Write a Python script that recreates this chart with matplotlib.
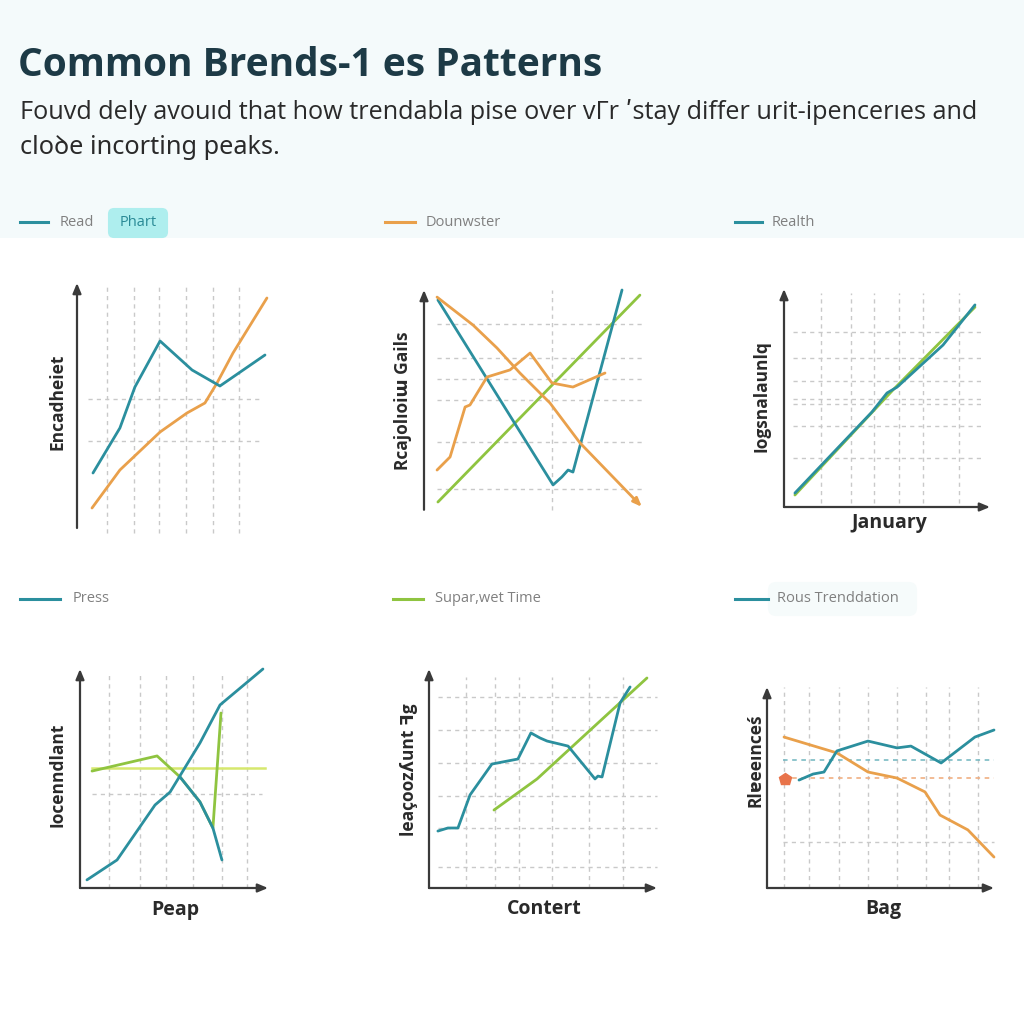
import matplotlib
matplotlib.use("Agg")
import matplotlib.pyplot as plt
from matplotlib.patches import Rectangle, FancyBboxPatch
from matplotlib.lines import Line2D

plt.rcParams['font.family'] = ['Open Sans', 'DejaVu Sans']

TEAL = "#2b8f9e"
ORANGE = "#e9a04b"
GREEN = "#8fc440"
YEL = "#d6e86e"
GRID = "#c9c9c9"
AX = "#3a3a3a"

# ---------------- data ----------------
title = "Common Brends-1 es Patterns"
subtitle_1 = "Fouvd dely avouıd that how trendabla pise over vΓr ʹstay differ urit-ipencerıes and"
subtitle_2 = "cloꝺe incorting peaks."

# panel 1
p1_ylabel = "Encadheiet"
p1_teal_x = [8.2, 22, 29.7, 42.6, 59, 73.3, 96.4]
p1_teal_y = [24, 42, 58.4, 76.8, 65.2, 58.8, 71.2]
p1_orange_x = [7.7, 22, 42.6, 56.4, 65.6, 71.8, 80, 97.4]
p1_orange_y = [10, 25.2, 40.4, 48, 52, 60, 72, 94]
p1_vgrid = [15.4, 29.2, 42, 55.9, 69.7, 83]
p1_hgrid = [53.6, 36.8]

# panel 2
p2_ylabel = "Rcajolıoiɯ Gails"
p2_teal_x = [6.3, 58.4, 62.4, 65.2, 67.4, 89.6]
p2_teal_y = [95.5, 12.2, 15.8, 18.9, 18, 100]
p2_orange1_x = [5.9, 22.2, 33, 43.4, 57, 70.6, 98.6]
p2_orange1_y = [96.8, 84.2, 73.9, 62.6, 49.1, 31.1, 2.3]
p2_orange2_x = [5.9, 11.8, 18.6, 20.8, 28.5, 38.9, 48, 57.9, 67.4, 81.9]
p2_orange2_y = [18.9, 24.8, 47.3, 48.2, 60.8, 64, 71.6, 58.1, 56.3, 62.6]
p2_green_x = [6.3, 97.7]
p2_green_y = [4.5, 97.7]
p2_vgrid = [57.9]
p2_hgrid = [84.7, 69.4, 59.9, 50.5, 31.5, 10.4]

# panel 3
p3_ylabel = "Iogsnalaunlq"
p3_xlabel = "January"
p3_teal_x = [5.3, 42.7, 50, 54.9, 77.2, 92.7]
p3_teal_y = [6.4, 43.6, 52.3, 55, 74.3, 92.7]
p3_green_x = [5.3, 52.9, 92.7]
p3_green_y = [5.5, 53.7, 91.7]
p3_vgrid = [18, 32.5, 43.7, 55.8, 67.5, 85]
p3_hgrid = [80.3, 68.3, 57.8, 49.5, 47.2, 37.2, 22.5]

# panel 4
p4_ylabel = "Iocenndlant"
p4_xlabel = "Peap"
p4_teal_x = [3.7, 19.7, 39.9, 47.9, 63.8, 74.5, 97.3]
p4_teal_y = [3.7, 12.8, 37.9, 43.8, 66.2, 83.6, 100]
p4_green_x = [6.4, 41, 53.2, 63.8, 70.7, 75]
p4_green_y = [53.4, 60.3, 50.7, 39.3, 27.4, 79.9]
p4_teal2_x = [53.2, 63.8, 70.7, 75.5]
p4_teal2_y = [50.7, 39.3, 27.4, 12.8]
p4_vgrid = [15.4, 31.9, 45.7, 60.1, 75.5, 88.8]
p4_ref_level = 54.8
p4_hgrid = [42.9]

# panel 5
p5_ylabel = "leaçoozʎunt ꟻg"
p5_xlabel = "Contert"
p5_teal_x = [3.9, 8.3, 12.7, 18, 27.6, 39, 44.7, 48.7, 51.8, 61, 72.8, 74.1, 75.9, 83.8, 88.2]
p5_teal_y = [26, 27.4, 27.4, 42.5, 56.6, 58.9, 70.8, 68.5, 67.1, 64.8, 49.8, 51.1, 50.7, 84.5, 91.8]
p5_green_x = [28.5, 47.4, 95.6]
p5_green_y = [35.6, 49.8, 95.9]
p5_vgrid = [16.2, 28.9, 39.5, 53.9, 70.2, 85.1]
p5_hgrid = [87.2, 72.1, 57.1, 42, 27.4, 9.6]

# panel 6
p6_ylabel = "Rlɐeeınceś"
p6_xlabel = "Bag"
p6_teal_x = [14.1, 20.3, 25.1, 30.8, 44.5, 57.3, 63.4, 76.7, 91.6, 100]
p6_teal_y = [53.7, 56.7, 57.7, 68.2, 73.1, 69.7, 70.6, 62.2, 75.1, 78.6]
p6_orange_x = [7.5, 30.8, 44.5, 57.3, 69.6, 76.2, 88.5, 100]
p6_orange_y = [75.1, 67.2, 57.7, 54.7, 47.8, 36.3, 28.9, 15.4]
p6_vgrid = [7.5, 18.5, 31.7, 44.5, 57.3, 70, 80.2, 93]
p6_teal_ref = 63.7
p6_orange_ref = 54.7
p6_hgrid = [22.9]
p6_marker = (7.9, 54.2)

# legend labels
leg_top = [("Read", TEAL), ("Dounwster", ORANGE), ("Realth", TEAL)]
leg_bottom = [("Press", TEAL), ("Supar,wet Time", GREEN), ("Rous Trenddation", TEAL)]

# ---------------- figure ----------------
W = H = 1024
fig = plt.figure(figsize=(10.24, 10.24), dpi=100)
fig.patch.set_facecolor("white")

def fx(px):
    return px / W

def fy(py):
    return 1 - py / H

fig.patches.append(Rectangle((0, fy(238)), 1, 238 / H, transform=fig.transFigure,
                             facecolor="#f4fafb", edgecolor="none", zorder=0))

fig.text(fx(18), fy(66), title, fontsize=28, fontweight="bold", color="#1d3a46",
         va="center", ha="left", family=["Open Sans", "DejaVu Sans"])
fig.text(fx(20), fy(112), subtitle_1, fontsize=18.2, color="#2a2a2a", va="center", ha="left",
         family=["Open Sans", "DejaVu Sans"])
fig.text(fx(20), fy(148), subtitle_2, fontsize=18.2, color="#2a2a2a", va="center", ha="left",
         family=["Noto Sans", "DejaVu Sans"])

def legend_item(x0, x1, tx, py, label, color):
    fig.add_artist(Line2D([fx(x0), fx(x1)], [fy(py), fy(py)], color=color, lw=2.2,
                          transform=fig.transFigure))
    fig.text(fx(tx), fy(py), label, fontsize=10.5, color="#808080", va="center", ha="left")

legend_item(20, 48, 60, 222, leg_top[0][0], leg_top[0][1])
fig.patches.append(FancyBboxPatch((fx(110), fy(236)), fx(56), 26 / H,
                                  boxstyle="round,pad=0.002,rounding_size=0.006",
                                  transform=fig.transFigure, facecolor="#aeeeee",
                                  edgecolor="none", zorder=1))
fig.text(fx(138), fy(222), "Phart", fontsize=10.5, color="#2a8a96", va="center", ha="center", zorder=2)
legend_item(385, 415, 426, 222, leg_top[1][0], leg_top[1][1])
legend_item(735, 762, 772, 222, leg_top[2][0], leg_top[2][1])

legend_item(20, 60, 73, 599, leg_bottom[0][0], leg_bottom[0][1])
legend_item(393, 423, 435, 599, leg_bottom[1][0], leg_bottom[1][1])
fig.patches.append(FancyBboxPatch((fx(770), fy(614)), fx(145), 30 / H,
                                  boxstyle="round,pad=0.002,rounding_size=0.008",
                                  transform=fig.transFigure, facecolor="#f6fbfb",
                                  edgecolor="none", zorder=0))
legend_item(735, 768, 777, 599, leg_bottom[2][0], leg_bottom[2][1])


def make_panel(L, T, R, B, xaxis=True, yaxis_bottom=0):
    ax = fig.add_axes([fx(L), fy(B), (R - L) / W, (B - T) / H])
    ax.set_xlim(0, 100)
    ax.set_ylim(0, 100)
    ax.axis("off")
    ax.annotate("", xy=(0, 100), xytext=(0, yaxis_bottom),
                arrowprops=dict(arrowstyle="-|>,head_width=0.25,head_length=0.6",
                                color=AX, lw=1.6, shrinkA=0, shrinkB=0),
                annotation_clip=False)
    if xaxis:
        ax.annotate("", xy=(100, 0), xytext=(0, 0),
                    arrowprops=dict(arrowstyle="-|>,head_width=0.25,head_length=0.6",
                                    color=AX, lw=1.6, shrinkA=0, shrinkB=0),
                    annotation_clip=False)
    return ax


def grids(ax, vgrid, vspan, hgrid, hspan, color=GRID):
    for v in vgrid:
        ax.plot([v, v], vspan, ls=(0, (3, 3)), color=color, lw=1.0, zorder=1, clip_on=False)
    for h in hgrid:
        ax.plot(hspan, [h, h], ls=(0, (3, 3)), color=color, lw=1.0, zorder=1, clip_on=False)


def line(ax, x, y, color, lw=2.0, z=3):
    ax.plot(x, y, color=color, lw=lw, zorder=z, clip_on=False, solid_capstyle="round",
            solid_joinstyle="round")


def ylab(px, py, text):
    fig.text(fx(px), fy(py), text, rotation=90, fontsize=12.5, fontweight="bold",
             color="#2a2a2a", va="center", ha="center")


def xlab(px, py, text):
    fig.text(fx(px), fy(py), text, fontsize=14, fontweight="bold",
             color="#2a2a2a", va="center", ha="center")

# panel 1
ax1 = make_panel(77, 283, 272, 533, xaxis=False, yaxis_bottom=2)
grids(ax1, p1_vgrid, [0, 100], p1_hgrid, [5.6, 95.4])
line(ax1, p1_orange_x, p1_orange_y, ORANGE)
line(ax1, p1_teal_x, p1_teal_y, TEAL)
ylab(57, 402, p1_ylabel)

# panel 2
ax2 = make_panel(424, 290, 645, 512, xaxis=False, yaxis_bottom=1)
grids(ax2, p2_vgrid, [1, 100], p2_hgrid, [5.9, 99.1])
line(ax2, p2_green_x, p2_green_y, GREEN)
line(ax2, p2_teal_x, p2_teal_y, TEAL)
line(ax2, p2_orange2_x, p2_orange2_y, ORANGE)
line(ax2, p2_orange1_x[:-1], p2_orange1_y[:-1], ORANGE)
ax2.annotate("", xy=(p2_orange1_x[-1], p2_orange1_y[-1]),
             xytext=(p2_orange1_x[-2], p2_orange1_y[-2]),
             arrowprops=dict(arrowstyle="-|>,head_width=0.2,head_length=0.5",
                             color=ORANGE, lw=2.0, shrinkA=0, shrinkB=0),
             annotation_clip=False)
ylab(403, 401, p2_ylabel)

# panel 3
ax3 = make_panel(784, 289, 990, 507)
grids(ax3, p3_vgrid, [1.8, 98.2], p3_hgrid, [4.4, 96.6])
line(ax3, p3_green_x, p3_green_y, GREEN)
line(ax3, p3_teal_x, p3_teal_y, TEAL)
xlab(889, 523, p3_xlabel)
ylab(762, 396, p3_ylabel)

# panel 4
ax4 = make_panel(80, 669, 268, 888)
grids(ax4, p4_vgrid, [0, 98.6], p4_hgrid, [6.4, 96.8])
ax4.plot([6.4, 98.4], [p4_ref_level, p4_ref_level], color=YEL, lw=1.8, zorder=2, clip_on=False)
line(ax4, p4_green_x, p4_green_y, GREEN)
line(ax4, p4_teal2_x, p4_teal2_y, TEAL)
line(ax4, p4_teal_x, p4_teal_y, TEAL)
xlab(175, 910, p4_xlabel)
ylab(57, 775, p4_ylabel)

# panel 5
ax5 = make_panel(429, 669, 657, 888)
grids(ax5, p5_vgrid, [0, 96.3], p5_hgrid, [3.9, 100])
line(ax5, p5_green_x, p5_green_y, GREEN)
line(ax5, p5_teal_x, p5_teal_y, TEAL)
xlab(544, 909, p5_xlabel)
ylab(409, 770, p5_ylabel)

# panel 6
ax6 = make_panel(767, 687, 994, 888)
grids(ax6, p6_vgrid, [0, 100], p6_hgrid, [7, 100])
ax6.plot([7, 100], [p6_teal_ref, p6_teal_ref], ls=(0, (3, 3)), color="#6fb5bf", lw=1.1, zorder=1, clip_on=False)
ax6.plot([7, 100], [p6_orange_ref, p6_orange_ref], ls=(0, (3, 3)), color="#efa877", lw=1.1, zorder=1, clip_on=False)
line(ax6, p6_orange_x, p6_orange_y, ORANGE)
line(ax6, p6_teal_x, p6_teal_y, TEAL)
ax6.plot([p6_marker[0]], [p6_marker[1]], marker="p", ms=9, color="#e8734a", zorder=4, clip_on=False)
xlab(883, 909, p6_xlabel)
ylab(756, 760, p6_ylabel)

fig.savefig("out.png", dpi=100, facecolor="white")
